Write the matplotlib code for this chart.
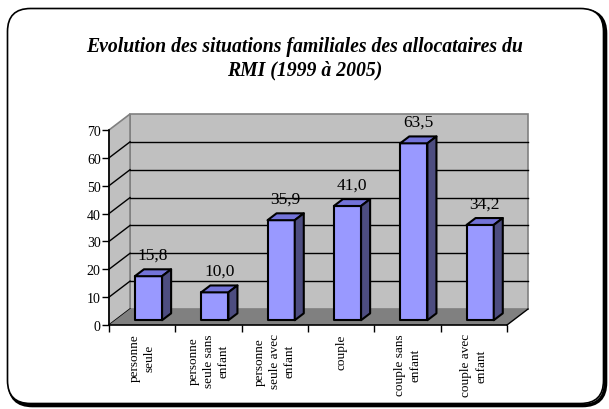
import matplotlib.pyplot as plt
from matplotlib.patches import Polygon, FancyBboxPatch

categories = ["personne\nseule", "personne\nseule sans\nenfant", "personne\nseule avec\nenfant",
              "couple", "couple sans\nenfant", "couple avec\nenfant"]
values = [15.8, 10.0, 35.9, 41.0, 63.5, 34.2]
value_labels = ["15,8", "10,0", "35,9", "41,0", "63,5", "34,2"]
y_ticks = [0, 10, 20, 30, 40, 50, 60, 70]

serif = "Liberation Serif"

fig = plt.figure(figsize=(6.09, 4.10), dpi=100)
fig.patch.set_facecolor("white")

# rounded frame with shadow
shadow = FancyBboxPatch((0.095, 0.035), 5.96, 3.95, boxstyle="round,pad=0,rounding_size=0.23",
                        transform=fig.dpi_scale_trans, fc="none", ec="black", lw=2.6, zorder=-2)
frame = FancyBboxPatch((0.075, 0.055), 5.96, 3.95, boxstyle="round,pad=0,rounding_size=0.23",
                       transform=fig.dpi_scale_trans, fc="white", ec="black", lw=1.2, zorder=-1)
fig.patches.extend([shadow, frame])

fig.text(0.5, 0.857, "Evolution des situations familiales des allocataires du\nRMI (1999 à 2005)",
         ha="center", va="center", fontsize=14.2, fontstyle="italic", fontweight="bold",
         family=serif, linespacing=1.25)

ax = fig.add_axes([109 / 609, 84 / 410, 398 / 609, 195 / 410])
ax.set_xlim(0, len(values))
ax.set_ylim(0, 70)
ax.patch.set_alpha(0)

n = len(values)
dx, dy = 0.317, 5.74      # depth of the 3D box in data units
f0, f1 = 0.30, 0.73       # front / back of bars as fraction of depth
bw = 0.41
top = y_ticks[-1]
wall = "#c0c0c0"
edge = "#808080"

# back wall and side wall
ax.add_patch(Polygon([(dx, dy), (n + dx, dy), (n + dx, top + dy), (dx, top + dy)],
                     closed=True, fc=wall, ec=edge, lw=1.2, zorder=1, clip_on=False))
ax.add_patch(Polygon([(0, 0), (dx, dy), (dx, top + dy), (0, top)],
                     closed=True, fc=wall, ec=edge, lw=1.2, zorder=1, clip_on=False))
# floor
ax.add_patch(Polygon([(0, 0), (n, 0), (n + dx, dy), (dx, dy)],
                     closed=True, fc=edge, ec="none", zorder=2, clip_on=False))
ax.plot([n, n + dx], [0, dy], color="black", lw=1, zorder=3, clip_on=False)

# gridlines on back wall and side wall
for v in y_ticks[1:-1]:
    ax.plot([dx, n + dx], [v + dy, v + dy], color="black", lw=1, zorder=1.5, clip_on=False)
for v in y_ticks[:-1]:
    ax.plot([0, dx], [v, v + dy], color="black", lw=1, zorder=1.5, clip_on=False)

# 3D bars
front_c, top_c, side_c = "#9999ff", "#7373d9", "#4d4d80"
for i, v in enumerate(values):
    x0 = i + 0.5 - bw / 2 + f0 * dx
    y0 = f0 * dy
    ddx, ddy = (f1 - f0) * dx, (f1 - f0) * dy
    face = [(x0, y0), (x0 + bw, y0), (x0 + bw, y0 + v), (x0, y0 + v)]
    topf = [(x0, y0 + v), (x0 + bw, y0 + v), (x0 + bw + ddx, y0 + v + ddy), (x0 + ddx, y0 + v + ddy)]
    side = [(x0 + bw, y0), (x0 + bw + ddx, y0 + ddy), (x0 + bw + ddx, y0 + v + ddy), (x0 + bw, y0 + v)]
    for pts, c in [(face, front_c), (topf, top_c), (side, side_c)]:
        ax.add_patch(Polygon(pts, closed=True, fc=c, ec="black", lw=1.5, joinstyle="round",
                             zorder=4, clip_on=False))
    ax.annotate(value_labels[i], (x0 + bw / 2 + ddx / 2, y0 + v + ddy), xytext=(0, 7.5),
                textcoords="offset points", ha="center", va="baseline",
                fontsize=12.5, family=serif, zorder=5)

# axes
for s in ["top", "right"]:
    ax.spines[s].set_visible(False)
ax.spines["left"].set_linewidth(1.2)
ax.spines["bottom"].set_linewidth(1.2)
ax.spines["left"].set_zorder(6)
ax.spines["bottom"].set_zorder(6)

ax.set_yticks(y_ticks)
ax.set_yticklabels([str(t) for t in y_ticks], family=serif, fontsize=10)
ax.tick_params(axis="y", length=5, width=1, pad=1)

ax.set_xticks([i + 0.5 for i in range(n)])
ax.set_xticklabels(categories, rotation=90, family=serif, fontsize=9.5,
                   multialignment="center", linespacing=1.35, va="top")
ax.set_xticks(range(n + 1), minor=True)
ax.tick_params(axis="x", which="major", length=0, pad=6)
ax.tick_params(axis="x", which="minor", length=5, width=1)

fig.savefig("out.png", dpi=100)
